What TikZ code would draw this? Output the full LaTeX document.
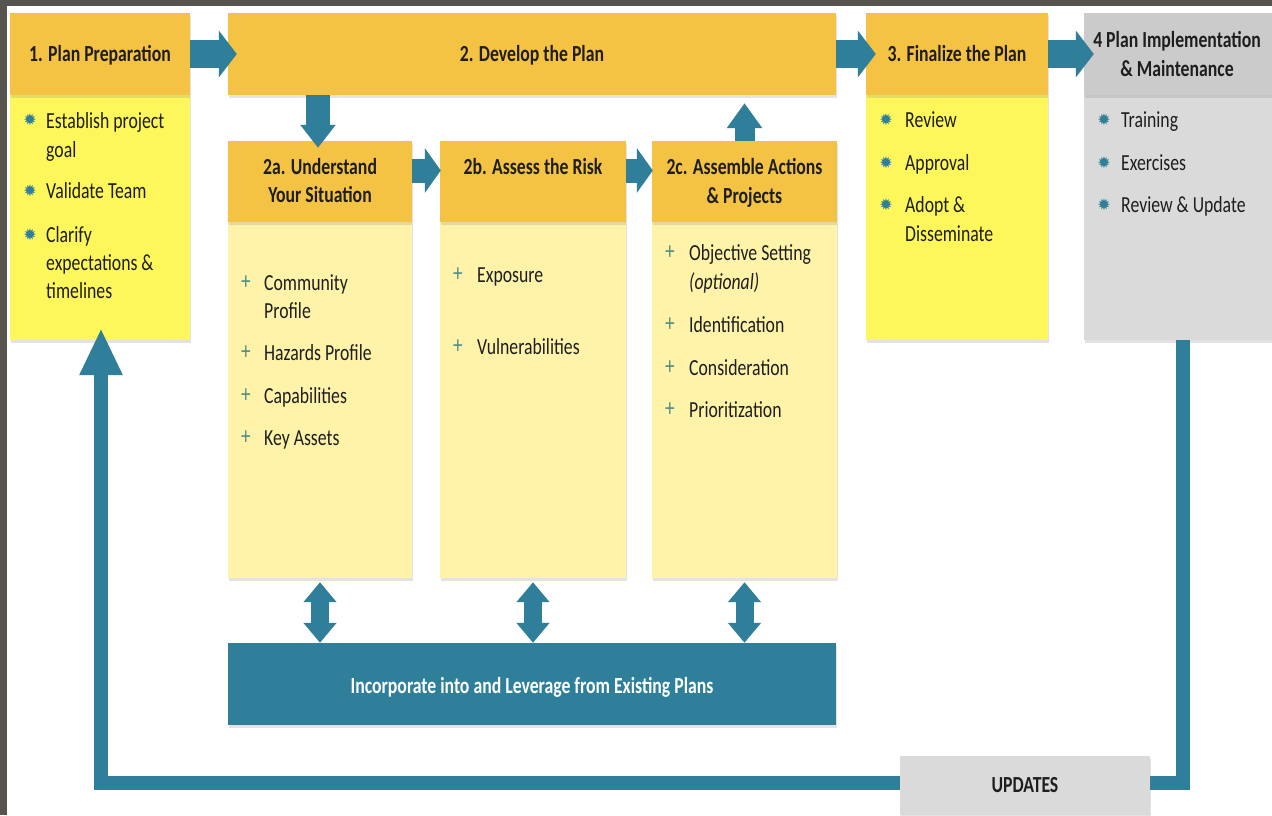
\documentclass[tikz,border=0pt]{standalone}
\usepackage{fontspec}
\setmainfont{Carlito}[FakeStretch=0.77]
\newfontfamily\symfont{DejaVu Sans}
\usetikzlibrary{arrows.meta,shadows}
\definecolor{orng}{HTML}{F5C344}
\definecolor{ylw}{HTML}{FDF75C}
\definecolor{pale}{HTML}{FEF3A8}
\definecolor{ghdr}{HTML}{CBCBCB}
\definecolor{gbody}{HTML}{DADADA}
\definecolor{teal}{HTML}{2F7F9A}
\definecolor{frame}{HTML}{57534E}
\definecolor{txtc}{HTML}{1E1E1E}
\definecolor{plusc}{HTML}{4F8C88}
\newcommand\fs{\fontsize{23}{28}\selectfont}
\begin{document}
\begin{tikzpicture}[x=1pt,y=-1pt,
  box/.style={draw=none, inner sep=0pt, drop shadow={shadow xshift=0.5pt,shadow yshift=-2.5pt,opacity=0.22}},
  tl/.style={anchor=base west, inner sep=0pt, text=txtc, font=\fs},
  tc/.style={anchor=base, inner sep=0pt, text=txtc, font=\fs\bfseries},
  str/.style={inner sep=0pt, text=teal, font=\symfont\fontsize{16}{16}\selectfont},
  pls/.style={inner sep=0pt, text=plusc, font=\fontsize{25}{25}\selectfont},
  blk/.style={draw=teal, line join=miter},
]
\useasboundingbox (0,0) rectangle (1272,815);
\fill[white] (0,0) rectangle (1272,815);
\fill[frame] (0,0) rectangle (1272,6);
\fill[frame] (0,0) rectangle (7,815);

% bodies
\node[box, fill=ylw, minimum width=180pt, minimum height=245pt] (b1) at (100,217.5) {};
\node[box, fill=ylw, minimum width=182pt, minimum height=245pt] (b3) at (957,217.5) {};
\node[box, fill=gbody, minimum width=188pt, minimum height=245pt] (b4) at (1178,217.5) {};
\node[box, fill=pale, minimum width=184pt, minimum height=356pt] (ba) at (320,400) {};
\node[box, fill=pale, minimum width=186pt, minimum height=356pt] (bb) at (533,400) {};
\node[box, fill=pale, minimum width=185pt, minimum height=356pt] (bc) at (744.5,400) {};
% headers
\node[box, fill=orng, minimum width=180pt, minimum height=82pt] (h1) at (100,54) {};
\node[box, fill=orng, minimum width=608pt, minimum height=82pt] (h2) at (532,54) {};
\node[box, fill=orng, minimum width=182pt, minimum height=82pt] (h3) at (957,54) {};
\node[box, fill=ghdr, minimum width=188pt, minimum height=82pt] (h4) at (1178,54) {};
\node[box, fill=orng, minimum width=184pt, minimum height=81pt] (ha) at (320,181.5) {};
\node[box, fill=orng, minimum width=186pt, minimum height=81pt] (hb) at (533,181.5) {};
\node[box, fill=orng, minimum width=185pt, minimum height=81pt] (hc) at (744.5,181.5) {};
\node[box, fill=teal, minimum width=608pt, minimum height=82pt] (inc) at (532,684) {};

% header texts
\node[tc] (t1) at (100,61) {1. Plan Preparation};
\node[tc] (t2) at (532,61) {2. Develop the Plan};
\node[tc] (t3) at (957,61) {3. Finalize the Plan};
\node[tc] (t4a) at (1177,47) {4 Plan Implementation};
\node[tc] (t4b) at (1177,76) {\& Maintenance};
\node[tc] (taa) at (320,174) {2a. Understand};
\node[tc] (tab) at (320,202) {Your Situation};
\node[tc] (tb) at (533,174) {2b. Assess the Risk};
\node[tc] (tca) at (744.5,174) {2c. Assemble Actions};
\node[tc] (tcb) at (744.5,203) {\& Projects};
\node[tc, text=white] (tinc) at (532,693) {Incorporate into and Leverage from Existing Plans};

% box 1 items
\node[str] (s11) at (30,120) {✹};
\node[tl] (i11a) at (46,128) {Establish project};
\node[tl] (i11b) at (46,157) {goal};
\node[str] (s12) at (30,191) {✹};
\node[tl] (i12) at (46,198) {Validate Team};
\node[str] (s13) at (30,235) {✹};
\node[tl] (i13a) at (46,242) {Clarify};
\node[tl] (i13b) at (46,270) {expectations \&};
\node[tl] (i13c) at (46,298) {timelines};
% box 3 items
\node[str] (s31) at (886,120) {✹};
\node[tl] (i31) at (905,127) {Review};
\node[str] (s32) at (886,163) {✹};
\node[tl] (i32) at (905,170) {Approval};
\node[str] (s33) at (886,205) {✹};
\node[tl] (i33a) at (905,212) {Adopt \&};
\node[tl] (i33b) at (905,241) {Disseminate};
% box 4 items
\node[str] (s41) at (1104,120) {✹};
\node[tl] (i41) at (1121,127) {Training};
\node[str] (s42) at (1104,163) {✹};
\node[tl] (i42) at (1121,170) {Exercises};
\node[str] (s43) at (1104,205) {✹};
\node[tl] (i43) at (1121,212) {Review \& Update};
% 2a items
\node[pls] (pa1) at (246,283) {+};
\node[tl] (ia1a) at (264,290) {Community};
\node[tl] (ia1b) at (264,318) {Profile};
\node[pls] (pa2) at (246,353) {+};
\node[tl] (ia2) at (264,360) {Hazards Profile};
\node[pls] (pa3) at (246,396) {+};
\node[tl] (ia3) at (264,403) {Capabilities};
\node[pls] (pa4) at (246,438) {+};
\node[tl] (ia4) at (264,445) {Key Assets};
% 2b items
\node[pls] (pb1) at (458,275) {+};
\node[tl] (ib1) at (477,282) {Exposure};
\node[pls] (pb2) at (458,347) {+};
\node[tl] (ib2) at (477,354) {Vulnerabilities};
% 2c items
\node[pls] (pc1) at (670,253) {+};
\node[tl] (ic1a) at (689,260) {Objective Setting};
\node[tl] (ic1b) at (689,289) {\textit{(optional)}};
\node[pls] (pc2) at (670,325) {+};
\node[tl] (ic2) at (689,332) {Identification};
\node[pls] (pc3) at (670,368) {+};
\node[tl] (ic3) at (689,375) {Consideration};
\node[pls] (pc4) at (670,410) {+};
\node[tl] (ic4) at (689,417) {Prioritization};

% block arrows
\draw[blk, line width=28pt, -{Triangle[length=18pt,width=46pt]}] (h1.east) -- ([xshift=9pt]h2.west);
\draw[blk, line width=28pt, -{Triangle[length=18pt,width=46pt]}] (h2.east) -- ([xshift=10pt]h3.west);
\draw[blk, line width=28pt, -{Triangle[length=18pt,width=46pt]}] (h3.east) -- ([xshift=10pt]h4.west);
\draw[blk, line width=24pt, -{Triangle[length=23pt,width=34pt]}] ([xshift=-2pt]ha.north |- h2.south) -- ([xshift=-2pt,yshift=-7pt]ha.north);
\draw[blk, line width=24pt, -{Triangle[length=16pt,width=44pt]}] ([yshift=11pt]ha.east) -- ([yshift=11pt,xshift=1pt]hb.west);
\draw[blk, line width=24pt, -{Triangle[length=16pt,width=44pt]}] ([yshift=11pt]hb.east) -- ([yshift=11pt,xshift=1pt]hc.west);
\draw[blk, line width=20pt, -{Triangle[length=25pt,width=34pt]}] (hc.north) -- ([yshift=-8pt]h2.south -| hc.north);
\draw[blk, line width=18pt, {Triangle[length=20pt,width=32pt]}-{Triangle[length=20pt,width=32pt]}] ([yshift=-4pt]ba.south) -- (inc.north -| ba.south);
\draw[blk, line width=18pt, {Triangle[length=20pt,width=32pt]}-{Triangle[length=20pt,width=32pt]}] ([yshift=-4pt]bb.south) -- (inc.north -| bb.south);
\draw[blk, line width=18pt, {Triangle[length=20pt,width=32pt]}-{Triangle[length=20pt,width=32pt]}] ([yshift=-4pt]bc.south) -- (inc.north -| bc.south);

% update loop
\coordinate (lp) at (101,783);
\draw[blk, line width=14pt, -{Triangle[length=47pt,width=40pt]}] ([xshift=5pt]b4.south) |- (lp) -- ([yshift=12pt]b1.south -| lp);

\node[box, fill=gbody, minimum width=250pt, minimum height=59pt] (upd) at (1025,785.5) {};
\node[tc] (tupd) at (1025,792) {UPDATES};
\end{tikzpicture}
\end{document}
